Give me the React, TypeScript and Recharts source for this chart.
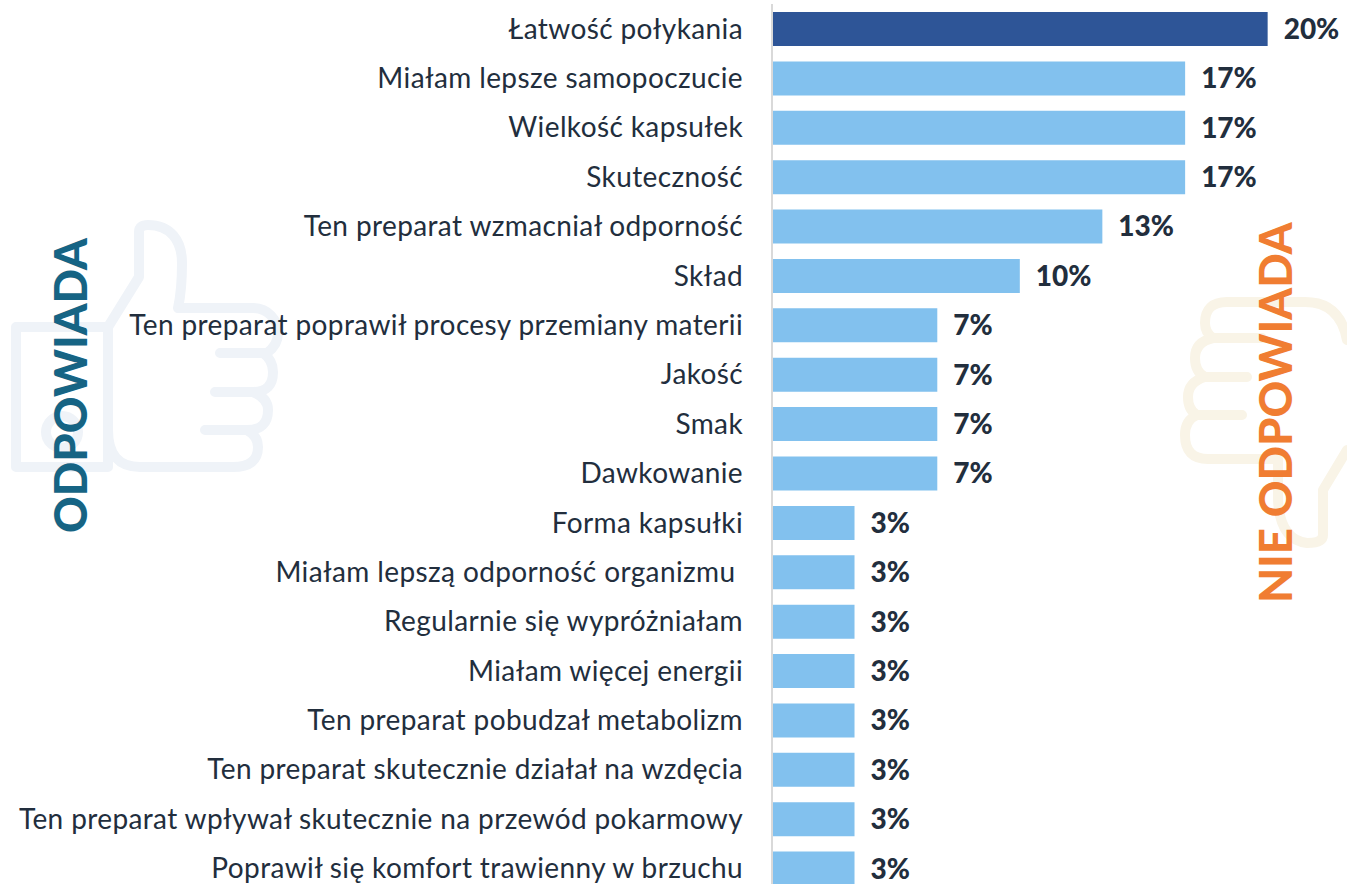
import React from "react";
import { BarChart, Bar, XAxis, YAxis, Cell, LabelList } from "recharts";

const categories = [
  "Łatwość połykania",
  "Miałam lepsze samopoczucie",
  "Wielkość kapsułek",
  "Skuteczność",
  "Ten preparat wzmacniał odporność",
  "Skład",
  "Ten preparat poprawił procesy przemiany materii",
  "Jakość",
  "Smak",
  "Dawkowanie",
  "Forma kapsułki",
  "Miałam lepszą odporność organizmu\u00a0",
  "Regularnie się wypróżniałam",
  "Miałam więcej energii",
  "Ten preparat pobudzał metabolizm",
  "Ten preparat skutecznie działał na wzdęcia",
  "Ten preparat wpływał skutecznie na przewód pokarmowy",
  "Poprawił się komfort trawienny w brzuchu",
];
const values = [20, 16.67, 16.67, 16.67, 13.33, 10, 6.67, 6.67, 6.67, 6.67, 3.33, 3.33, 3.33, 3.33, 3.33, 3.33, 3.33, 3.33];
const data = categories.map((name, i) => ({ name, value: values[i] }));

const FONT = "Lato, 'Open Sans', sans-serif";
const TEXT = "#222e3d";
const THUMB_UP = [
  "M108 327 L139 277 L139 232 Q139 225 148 225 C170 225 182 240 182 263 Q182 290 178 308 L253 308 C268 308 278 320 278 333 Q278 345 267 353 L220 353 M263 353 Q273 360 273 372 Q273 392 253 392 L215 392 M253 392 Q268 398 268 410 Q268 430 247 430 L205 430 M247 430 Q258 436 258 447 Q258 467 233 467 L140 467 Q108 467 108 430",
];
const THUMB_DOWN = [
  "M1347 340 Q1340 302 1305 302 L1227 302 Q1205 302 1205 323 Q1205 333 1213 338 L1262 338 M1213 338 Q1195 342 1195 358 Q1195 372 1205 377 L1247 377 M1205 377 Q1188 382 1188 397 Q1188 410 1197 415 L1242 415 M1197 415 Q1185 420 1185 435 Q1185 459 1208 459 L1278 459 L1278 500 Q1280 540 1307 543 Q1323 543 1323 535 L1323 490 L1347 450",
];

export default function App() {
  return (
    <div style={{ position: "absolute", left: 0, top: 0, width: 1347, height: 884, overflow: "hidden", background: "#fff" }}>
      <svg width={1347} height={884} style={{ position: "absolute", left: 0, top: 0 }}>
        <g fill="none" stroke="#eff3f8" strokeWidth={10} strokeLinecap="round" strokeLinejoin="round">
          <rect x={16} y={327} width={92} height={140} />
          <circle cx={62} cy={432} r={16} />
          {THUMB_UP.map((d) => <path key={d} d={d} />)}
        </g>
        <g fill="none" stroke="#f9f4e7" strokeWidth={10} strokeLinecap="round" strokeLinejoin="round">
          {THUMB_DOWN.map((d) => <path key={d} d={d} />)}
        </g>
      </svg>
      <div style={{ position: "absolute", left: 0, top: 0 }}>
        <BarChart
          width={1347}
          height={893}
          data={data}
          layout="vertical"
          barSize={34}
          margin={{ top: 4, right: 5, bottom: 0, left: 0 }}
        >
          <XAxis type="number" domain={[0, 23]} hide />
          <YAxis
            type="category"
            dataKey="name"
            width={772}
            interval={0}
            tickLine={false}
            tickMargin={29}
            tickSize={0}
            axisLine={{ stroke: "#d9d9d9", strokeWidth: 2 }}
            tick={{ fontFamily: FONT, fontSize: 28, letterSpacing: 0.38, fill: TEXT }}
          />
          <Bar dataKey="value" isAnimationActive={false}>
            {data.map((d, i) => (
              <Cell key={d.name} fill={i === 0 ? "#2e5597" : "#82c1ee"} />
            ))}
            <LabelList
              dataKey="value"
              position="right"
              offset={16}
              formatter={(v: number) => `${Math.round(v)}%`}
              style={{ fontFamily: FONT, fontSize: 28, fontWeight: 900, fill: TEXT }}
            />
          </Bar>
        </BarChart>
      </div>
      <svg width={1347} height={884} style={{ position: "absolute", left: 0, top: 0 }}>
        <text transform="translate(87,533) rotate(-90)" fontFamily={FONT} fontWeight={900} fontSize={45.4} fill="#166484">ODPOWIADA</text>
        <text transform="translate(1292,603) rotate(-90)" fontFamily={FONT} fontWeight={900} fontSize={45.4} fill="#f07d32">NIE ODPOWIADA</text>
      </svg>
    </div>
  );
}
